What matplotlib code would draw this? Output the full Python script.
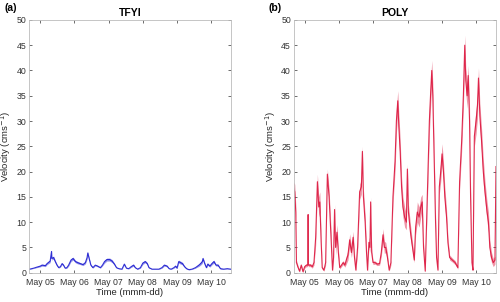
import matplotlib
matplotlib.use("Agg")
import matplotlib.pyplot as plt
import numpy as np

plt.rcParams["font.family"] = ["Liberation Sans", "DejaVu Sans"]

# time in fractional day-of-month (May), velocity in cm/s
tfyi_day = [4.69, 4.81, 4.90, 5.00, 5.05, 5.15, 5.20, 5.29, 5.33, 5.34, 5.39, 5.44, 5.49, 5.54,
            5.59, 5.64, 5.68, 5.73, 5.78, 5.83, 5.90, 5.96, 6.03, 6.09, 6.17, 6.25, 6.32, 6.37,
            6.39, 6.43, 6.48, 6.54, 6.61, 6.68, 6.76, 6.82, 6.88, 6.95, 7.03, 7.10, 7.17, 7.23,
            7.30, 7.39, 7.46, 7.52, 7.59, 7.66, 7.73, 7.78, 7.85, 7.93, 8.00, 8.07, 8.13, 8.18,
            8.27, 8.37, 8.47, 8.56, 8.63, 8.71, 8.77, 8.83, 8.91, 8.96, 9.00, 9.05, 9.10, 9.16,
            9.22, 9.28, 9.35, 9.44, 9.54, 9.64, 9.69, 9.74, 9.76, 9.81, 9.86, 9.90, 9.96, 10.02,
            10.08, 10.14, 10.20, 10.27, 10.37, 10.47, 10.57]
tfyi_vel = [0.7, 0.9, 1.1, 1.3, 1.5, 1.4, 1.8, 2.3, 4.2, 2.8, 3.0, 2.2, 1.5, 1.0,
            1.2, 1.8, 1.5, 0.9, 1.0, 1.5, 2.5, 2.8, 2.2, 2.0, 1.8, 1.6, 2.0, 3.0,
            3.9, 2.8, 1.5, 1.0, 1.5, 1.3, 1.0, 1.5, 2.2, 2.6, 2.6, 2.3, 1.7, 1.0,
            0.8, 0.7, 1.7, 0.9, 0.8, 1.2, 1.5, 1.0, 0.7, 1.0, 1.9, 2.2, 1.8, 1.0,
            0.7, 0.7, 0.7, 1.0, 1.5, 1.3, 0.8, 0.7, 1.0, 1.3, 0.9, 2.2, 2.0, 1.8,
            1.2, 0.8, 0.6, 0.7, 1.0, 1.5, 1.8, 2.2, 2.8, 1.8, 1.0, 1.7, 1.3, 1.8,
            2.2, 1.5, 1.5, 0.8, 0.7, 0.8, 0.7]
tfyi_spread = [0.05, 0.05, 0.1, 0.15, 0.2, 0.2, 0.2, 0.3, 0.3, 0.3, 0.3, 0.25, 0.2, 0.1,
               0.1, 0.2, 0.15, 0.1, 0.1, 0.2, 0.3, 0.3, 0.25, 0.25, 0.2, 0.2, 0.25, 0.35,
               0.3, 0.3, 0.2, 0.1, 0.15, 0.15, 0.1, 0.15, 0.3, 0.3, 0.3, 0.3, 0.2, 0.1,
               0.05, 0.05, 0.15, 0.1, 0.05, 0.15, 0.2, 0.1, 0.05, 0.1, 0.25, 0.25, 0.2, 0.1,
               0.05, 0.05, 0.05, 0.1, 0.2, 0.15, 0.05, 0.05, 0.1, 0.15, 0.1, 0.3, 0.3, 0.25,
               0.15, 0.1, 0.05, 0.05, 0.1, 0.25, 0.3, 0.35, 0.3, 0.25, 0.1, 0.25, 0.2, 0.25,
               0.3, 0.2, 0.2, 0.1, 0.05, 0.05, 0.05]

poly_day = [4.67, 4.71, 4.74, 4.76, 4.81, 4.85, 4.90, 4.95, 5.00, 5.05, 5.09, 5.10, 5.11, 5.17,
            5.22, 5.27, 5.32, 5.37, 5.41, 5.44, 5.48, 5.51, 5.56, 5.61, 5.66, 5.71, 5.76, 5.81,
            5.84, 5.87, 5.90, 5.94, 5.98, 6.02, 6.07, 6.12, 6.17, 6.21, 6.26, 6.31, 6.36, 6.41,
            6.45, 6.49, 6.54, 6.60, 6.65, 6.68, 6.71, 6.76, 6.80, 6.83, 6.87, 6.90, 6.92, 6.95,
            6.99, 7.05, 7.11, 7.18, 7.23, 7.28, 7.32, 7.36, 7.41, 7.46, 7.51, 7.57, 7.63, 7.67,
            7.71, 7.74, 7.78, 7.82, 7.86, 7.91, 7.96, 7.99, 8.02, 8.08, 8.14, 8.19, 8.23, 8.28,
            8.33, 8.38, 8.42, 8.46, 8.51, 8.57, 8.63, 8.67, 8.70, 8.73, 8.77, 8.81, 8.84, 8.88,
            8.92, 8.96, 9.00, 9.04, 9.08, 9.13, 9.17, 9.22, 9.30, 9.38, 9.46, 9.51, 9.57, 9.62,
            9.66, 9.69, 9.73, 9.76, 9.80, 9.83, 9.87, 9.90, 9.94, 9.99, 10.03, 10.06, 10.10, 10.15,
            10.20, 10.25, 10.31, 10.35, 10.39, 10.44, 10.49, 10.54, 10.57]
poly_vel = [17.0, 16.0, 12.0, 2.0, 1.0, 0.3, 1.5, 0.2, 1.2, 1.5, 1.5, 11.5, 1.5, 1.5,
            1.2, 2.0, 7.0, 18.0, 13.0, 14.0, 6.0, 1.0, 0.5, 2.0, 19.5, 15.0, 8.0, 0.5,
            3.0, 12.5, 5.0, 8.0, 4.0, 1.0, 1.5, 2.0, 1.5, 2.5, 3.5, 6.5, 4.0, 7.0,
            3.0, 0.5, 5.0, 16.0, 17.0, 24.0, 15.0, 10.0, 4.0, 0.5, 6.0, 5.0, 14.0, 4.0,
            2.0, 2.0, 1.7, 1.8, 4.0, 7.5, 5.0, 5.0, 3.0, 0.5, 2.0, 15.0, 22.0, 30.0,
            34.0, 29.0, 24.0, 17.0, 13.0, 11.0, 10.0, 20.5, 12.0, 8.0, 5.0, 2.5, 9.0, 12.0,
            11.0, 13.0, 14.0, 5.0, 0.3, 15.0, 30.0, 36.0, 40.0, 35.0, 22.0, 10.0, 3.0, 0.5,
            17.0, 20.0, 23.5, 20.0, 15.0, 11.0, 6.0, 3.0, 2.5, 2.0, 1.0, 18.0, 26.0, 35.0,
            45.0, 38.0, 35.0, 39.0, 30.0, 15.0, 2.0, 0.5, 27.0, 30.0, 33.0, 38.5, 31.0, 26.0,
            20.0, 16.0, 12.0, 10.0, 5.0, 3.0, 2.0, 2.5, 21.0]
poly_spread = [1.0, 1.5, 1.5, 0.5, 0.3, 0.2, 0.3, 0.2, 0.3, 0.3, 0.3, 0.3, 0.3, 0.3,
               0.3, 0.5, 1.5, 1.5, 2.0, 2.0, 1.0, 0.3, 0.2, 0.5, 1.0, 1.5, 1.5, 0.3,
               0.8, 1.0, 1.5, 1.5, 0.8, 0.3, 0.3, 0.4, 0.4, 0.8, 1.0, 1.2, 1.0, 1.2,
               0.8, 0.2, 1.0, 1.5, 1.5, 1.0, 1.5, 1.5, 1.0, 0.3, 1.0, 1.0, 1.0, 0.8,
               0.4, 0.3, 0.3, 0.3, 0.8, 1.2, 1.2, 1.0, 0.8, 0.2, 0.5, 1.5, 2.0, 2.5,
               2.0, 2.5, 2.5, 2.0, 2.0, 2.0, 1.5, 1.0, 1.5, 1.5, 1.0, 0.5, 1.5, 2.0,
               2.0, 2.0, 1.5, 1.0, 0.2, 1.5, 2.5, 2.5, 2.0, 2.5, 2.0, 1.5, 0.8, 0.2,
               1.5, 2.0, 2.0, 2.0, 2.0, 1.5, 1.0, 0.5, 0.4, 0.4, 0.3, 1.5, 2.0, 2.5,
               2.0, 2.5, 2.5, 2.0, 2.5, 2.0, 0.5, 0.2, 2.0, 2.5, 2.5, 2.0, 2.5, 2.5,
               2.5, 2.0, 2.0, 2.0, 1.5, 1.0, 0.8, 0.8, 1.0]

day_ticks = [5, 6, 7, 8, 9, 10]
day_labels = ["May 05", "May 06", "May 07", "May 08", "May 09", "May 10"]
y_ticks = [0, 5, 10, 15, 20, 25, 30, 35, 40, 45, 50]

panels = [
    ("(a)", "TFYI", tfyi_day, tfyi_vel, tfyi_spread, "#1c1cd0", [0.0586, 0.097, 0.4028, 0.837]),
    ("(b)", "POLY", poly_day, poly_vel, poly_spread, "#dc143c", [0.5874, 0.097, 0.4046, 0.837]),
]

fig = plt.figure(figsize=(5.0, 3.02), dpi=100)
for letter, name, days, vel, spread, color, rect in panels:
    ax = fig.add_axes(rect)
    d = np.array(days)
    v = np.array(vel)
    s = np.array(spread)
    ax.fill_between(d, np.clip(v - s, 0, None), v + s, color=color, alpha=0.45, linewidth=0)
    ax.plot(d, v, color=color, linewidth=0.8, alpha=0.9)
    ax.set_xlim(4.68, 10.57)
    ax.set_ylim(0, 50)
    ax.set_xticks(day_ticks)
    ax.set_xticklabels(day_labels)
    ax.set_yticks(y_ticks)
    ax.tick_params(direction="in", length=2.5, width=0.5, labelsize=6.3, colors="#333333",
                   top=True, right=True)
    ax.tick_params(axis="x", pad=3.5)
    ax.tick_params(axis="y", pad=2)
    for sp in ax.spines.values():
        sp.set_color("#bcbcbc")
        sp.set_linewidth(0.6)
    ax.set_title(name, fontsize=7.5, fontweight="bold", pad=3)
    ax.set_xlabel("Time (mmm-dd)", fontsize=6.8, color="#262626", labelpad=1)
    ax.set_ylabel("Velocity (cms$^{-1}$)", fontsize=6.8, color="#262626", labelpad=2.5)
    fig.text(rect[0] - 0.05, 0.99, letter, fontsize=7.5, fontweight="bold", va="top", ha="left")

fig.savefig("out.png", dpi=100)
